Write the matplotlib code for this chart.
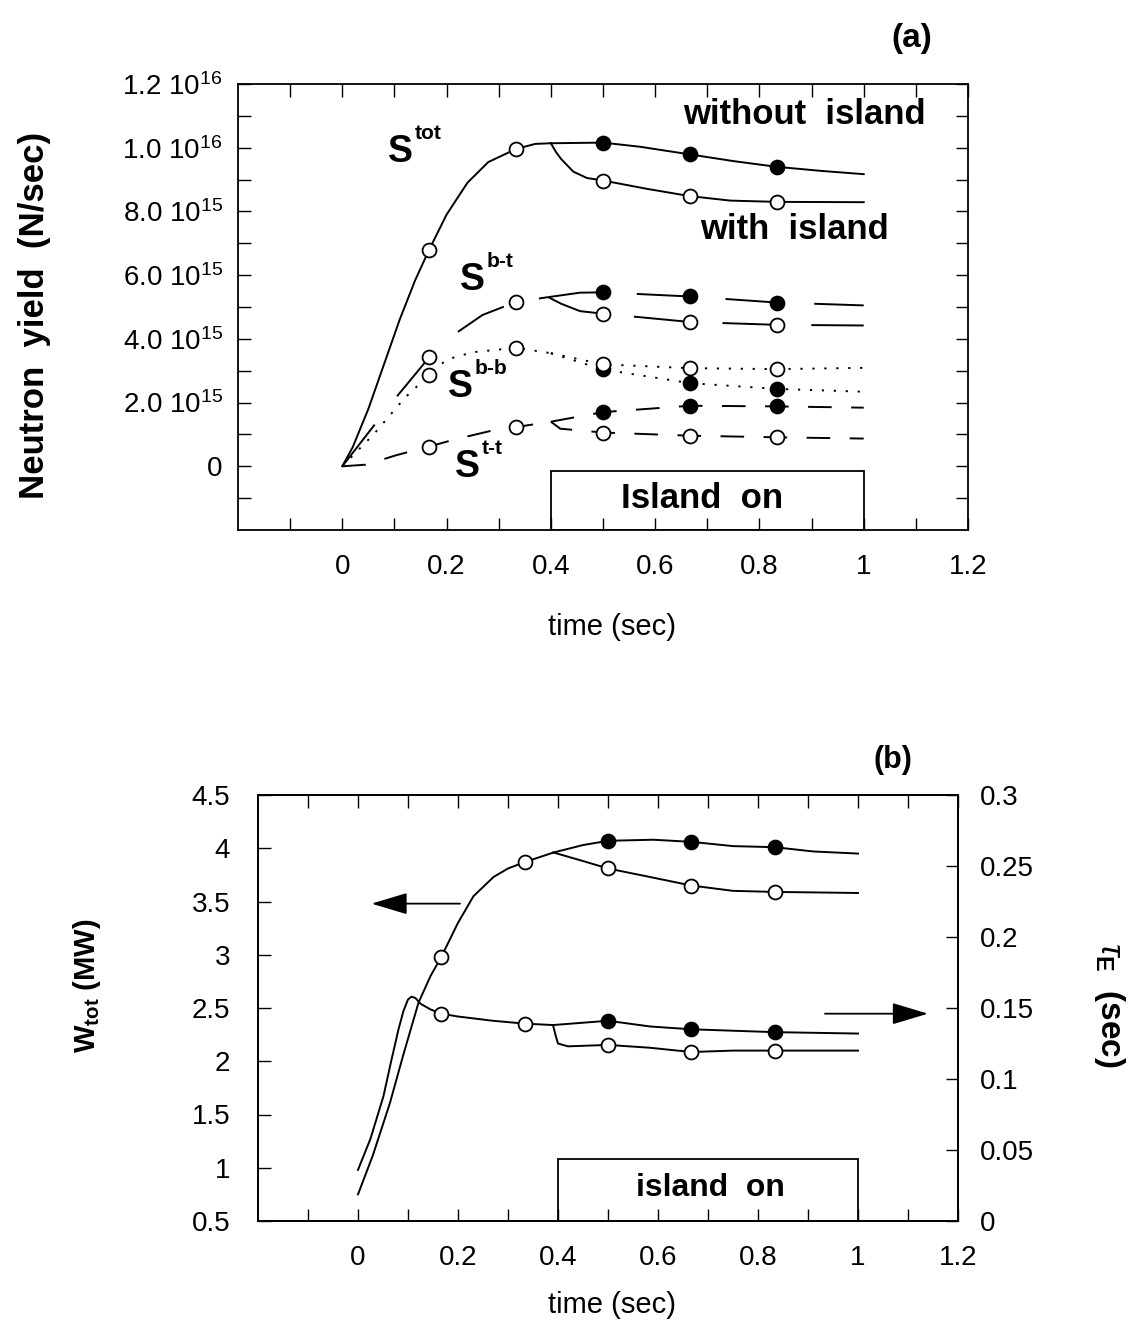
import numpy as np
import matplotlib
matplotlib.use("Agg")
import matplotlib.pyplot as plt
from matplotlib.patches import Rectangle

plt.rcParams["font.family"] = ["Liberation Sans", "DejaVu Sans"]
plt.rcParams["mathtext.fontset"] = "custom"
plt.rcParams["mathtext.rm"] = "Liberation Sans"
plt.rcParams["mathtext.it"] = "Liberation Sans:italic"
plt.rcParams["mathtext.bf"] = "Liberation Sans:bold"
plt.rcParams["lines.scale_dashes"] = False

# ---------------- (a) neutron yield, in units of 1e15 N/sec ----------------
tot_t = [0, 0.02, 0.05, 0.08, 0.11, 0.14, 1/6, 0.2, 0.24, 0.28, 1/3, 0.37, 0.4]
tot_v = [0, 0.6, 1.8, 3.2, 4.6, 5.85, 6.80, 7.9, 8.9, 9.55, 9.96, 10.12, 10.14]
tot_noisl_t = [0.4, 0.5, 0.571, 2/3, 0.75, 5/6, 0.92, 1.0]
tot_noisl_v = [10.14, 10.16, 10.03, 9.79, 9.58, 9.40, 9.27, 9.17]
tot_isl_t = [0.4, 0.41, 0.42, 0.443, 0.469, 0.5, 0.584, 2/3, 0.744, 5/6, 1.0]
tot_isl_v = [10.14, 9.86, 9.64, 9.25, 9.05, 8.97, 8.71, 8.48, 8.34, 8.30, 8.29]

bt_t = [0, 0.095, 1/6, 0.22, 0.269, 1/3, 0.395]
bt_v = [0, 2.0, 3.42, 4.2, 4.75, 5.16, 5.31]
bt_noisl_t = [0.395, 0.456, 0.5, 2/3, 5/6, 1.0]
bt_noisl_v = [5.31, 5.45, 5.46, 5.33, 5.14, 5.05]
bt_isl_t = [0.395, 0.42, 0.456, 0.5, 2/3, 5/6, 1.0]
bt_isl_v = [5.31, 5.10, 4.87, 4.79, 4.53, 4.44, 4.42]

bb_t = [0, 0.06, 0.12, 1/6, 0.2, 0.25, 1/3, 0.4]
bb_v = [0, 1.0, 2.15, 2.87, 3.35, 3.58, 3.72, 3.55]
bb_noisl_t = [0.4, 0.5, 2/3, 5/6, 1.0]
bb_noisl_v = [3.55, 3.04, 2.61, 2.43, 2.34]
bb_isl_t = [0.4, 0.5, 2/3, 5/6, 1.0]
bb_isl_v = [3.55, 3.20, 3.08, 3.05, 3.09]

tt_t = [0, 0.045, 0.104, 1/6, 0.215, 0.287, 1/3, 0.4]
tt_v = [0, 0.05, 0.35, 0.62, 0.84, 1.12, 1.23, 1.40]
tt_noisl_t = [0.4, 0.5, 2/3, 5/6, 1.0]
tt_noisl_v = [1.40, 1.70, 1.90, 1.88, 1.84]
tt_isl_t = [0.4, 0.418, 0.5, 2/3, 5/6, 1.0]
tt_isl_v = [1.40, 1.18, 1.06, 0.96, 0.91, 0.87]

# ---------------- (b) stored energy (MW) and tau_E (sec) ----------------
w_t = [0, 0.03, 0.064, 0.09, 0.121, 0.145, 1/6, 0.2, 0.231, 0.271, 0.3, 1/3, 0.391]
w_v = [0.75, 1.12, 1.61, 2.05, 2.55, 2.80, 2.98, 3.30, 3.55, 3.73, 3.81, 3.87, 3.96]
w_noisl_t = [0.391, 0.45, 0.5, 0.591, 2/3, 0.75, 5/6, 0.91, 1.0]
w_noisl_v = [3.96, 4.03, 4.07, 4.08, 4.06, 4.02, 4.01, 3.97, 3.95]
w_isl_t = [0.391, 0.45, 0.5, 0.584, 2/3, 0.75, 5/6, 1.0]
w_isl_v = [3.96, 3.88, 3.81, 3.73, 3.65, 3.60, 3.59, 3.58]

tau_t = [0, 0.025, 0.051, 0.066, 0.081, 0.091, 0.1, 0.107, 0.115, 0.125, 0.145, 1/6, 0.2, 0.27, 1/3, 0.39]
tau_v = [0.036, 0.058, 0.088, 0.112, 0.135, 0.148, 0.156, 0.158, 0.157, 0.153, 0.149, 0.146, 0.144, 0.141,
         0.139, 0.138]
tau_noisl_t = [0.39, 0.5, 0.584, 2/3, 0.75, 5/6, 1.0]
tau_noisl_v = [0.138, 0.141, 0.137, 0.135, 0.134, 0.133, 0.132]
tau_isl_t = [0.39, 0.395, 0.40, 0.42, 0.5, 0.584, 2/3, 0.75, 5/6, 1.0]
tau_isl_v = [0.138, 0.131, 0.125, 0.123, 0.124, 0.122, 0.119, 0.120, 0.120, 0.120]

marks_early = [1/6, 1/3]
marks_late = [0.5, 2/3, 5/6]

x_ticks = [0, 0.2, 0.4, 0.6, 0.8, 1.0, 1.2]
x_labels = ["0", "0.2", "0.4", "0.6", "0.8", "1", "1.2"]
ya_ticks = [0, 2, 4, 6, 8, 10, 12]
ya_labels = ["0", r"2.0 10$^{15}$", r"4.0 10$^{15}$", r"6.0 10$^{15}$",
             r"8.0 10$^{15}$", r"1.0 10$^{16}$", r"1.2 10$^{16}$"]
yw_ticks = [0.5, 1, 1.5, 2, 2.5, 3, 3.5, 4, 4.5]
yw_labels = ["0.5", "1", "1.5", "2", "2.5", "3", "3.5", "4", "4.5"]
ytau_ticks = [0, 0.05, 0.1, 0.15, 0.2, 0.25, 0.3]
ytau_labels = ["0", "0.05", "0.1", "0.15", "0.2", "0.25", "0.3"]

SOLID = "-"
LONGDASH = (0, (38, 26))
SHORTDASH = (0, (17, 14))
DOTS = (0, (1.6, 7))

W, H = 1141, 1324
fig = plt.figure(figsize=(W / 100, H / 100), dpi=100)


def draw(ax, t, v, ls, filled, marks):
    t = np.asarray(t)
    v = np.asarray(v)
    ax.plot(t, v, color="k", lw=1.4, linestyle=ls, zorder=2)
    sel = np.isin(np.round(t, 4), np.round(marks, 4))
    ax.plot(t[sel], v[sel], "o", ls="none", ms=10,
            mfc="k" if filled else "white", mec="k", mew=1.3, zorder=4)


def series(ax, t, v, nt, nv, it, iv, ls):
    draw(ax, t, v, ls, False, marks_early)
    draw(ax, nt, nv, ls, True, marks_late)
    draw(ax, it, iv, ls, False, marks_late)


def s_label(ax, x, y, sup):
    ax.annotate("S", (x, y), fontsize=27, fontweight="bold", ha="left", va="center")
    ax.annotate(sup, (x, y), xytext=(19, 13), textcoords="offset points",
                fontsize=15, fontweight="bold", ha="left", va="center")


def style_axes(ax):
    for s in ax.spines.values():
        s.set_linewidth(1.3)
    ax.set_xlim(-0.2, 1.2)
    ax.set_xticks(x_ticks, labels=x_labels)
    ax.set_xticks(np.arange(-0.1, 1.25, 0.1), minor=True)
    ax.tick_params(which="both", direction="in", length=9, width=1.0, labelsize=20)
    ax.tick_params(axis="x", which="both", top=True, pad=17)


# ---------------- panel (a) ----------------
ax = fig.add_axes([238 / W, 1 - 530 / H, 730 / W, 446 / H])
style_axes(ax)
ax.set_ylim(-2, 12)
ax.set_yticks(ya_ticks, labels=ya_labels)
ax.set_yticks(np.arange(-1, 12, 1), minor=True)
ax.tick_params(axis="y", which="both", right=True, pad=11)

series(ax, tot_t, tot_v, tot_noisl_t, tot_noisl_v, tot_isl_t, tot_isl_v, SOLID)
series(ax, bt_t, bt_v, bt_noisl_t, bt_noisl_v, bt_isl_t, bt_isl_v, LONGDASH)
series(ax, bb_t, bb_v, bb_noisl_t, bb_noisl_v, bb_isl_t, bb_isl_v, DOTS)
series(ax, tt_t, tt_v, tt_noisl_t, tt_noisl_v, tt_isl_t, tt_isl_v, SHORTDASH)

s_label(ax, 0.088, 9.87, "tot")
s_label(ax, 0.226, 5.85, "b-t")
s_label(ax, 0.203, 2.49, "b-b")
s_label(ax, 0.216, -0.02, "t-t")
ax.text(0.887, 11.03, "without  island", fontsize=25, fontweight="bold", ha="center", va="center")
ax.text(0.868, 7.42, "with  island", fontsize=25, fontweight="bold", ha="center", va="center")
ax.add_patch(Rectangle((0.4, -2), 0.6, 1.85, fill=False, lw=1.3, ec="k", zorder=3))
ax.text(0.69, -1.0, "Island  on", fontsize=25, fontweight="bold", ha="center", va="center")

fig.text(912 / W, 1 - 38 / H, "(a)", fontsize=24, fontweight="bold", ha="center", va="center")
fig.text(35 / W, 1 - 315 / H, "Neutron  yield  (N/sec)", rotation=90, fontsize=25,
         fontweight="bold", ha="center", va="center")
fig.text(612 / W, 1 - 627 / H, "time (sec)", fontsize=21, ha="center", va="center")

# ---------------- panel (b) ----------------
axb = fig.add_axes([258 / W, 1 - 1221 / H, 700 / W, 426 / H])
style_axes(axb)
axb.set_ylim(0.5, 4.5)
axb.set_yticks(yw_ticks, labels=yw_labels)
axb.tick_params(axis="y", which="both", right=False, pad=20)

ax2 = axb.twinx()
ax2.set_ylim(0, 0.3)
ax2.set_yticks(ytau_ticks, labels=ytau_labels)
ax2.tick_params(axis="y", direction="in", length=9, width=1.0, labelsize=20, pad=16)
for s in ax2.spines.values():
    s.set_linewidth(1.3)

series(axb, w_t, w_v, w_noisl_t, w_noisl_v, w_isl_t, w_isl_v, SOLID)
series(ax2, tau_t, tau_v, tau_noisl_t, tau_noisl_v, tau_isl_t, tau_isl_v, SOLID)

arrow = dict(arrowstyle="-|>,head_length=0.8,head_width=0.24", color="k", lw=1.3,
             mutation_scale=28, shrinkA=0, shrinkB=0)
axb.annotate("", xy=(0.027, 3.48), xytext=(0.204, 3.48), arrowprops=arrow)
ax2.annotate("", xy=(1.14, 0.146), xytext=(0.934, 0.146), arrowprops=arrow)

ax2.add_patch(Rectangle((0.4, 0), 0.6, 0.044, fill=False, lw=1.3, ec="k", zorder=3))
ax2.text(0.704, 0.023, "island  on", fontsize=23, fontweight="bold", ha="center", va="center")

fig.text(893 / W, 1 - 760 / H, "(b)", fontsize=22, fontweight="bold", ha="center", va="center")
fig.text(87 / W, 1 - 986 / H, r"$\mathbf{W_{tot}}$ (MW)", rotation=90, fontsize=21,
         fontweight="bold", ha="center", va="center")
fig.text(1110 / W, 1 - 1005 / H, r"$\tau_{\mathbf{E}}$  (sec)", rotation=270, fontsize=24,
         fontweight="bold", ha="center", va="center")
fig.text(612 / W, 1 - 1305 / H, "time (sec)", fontsize=21, ha="center", va="center")

fig.savefig("out.png", dpi=100)
